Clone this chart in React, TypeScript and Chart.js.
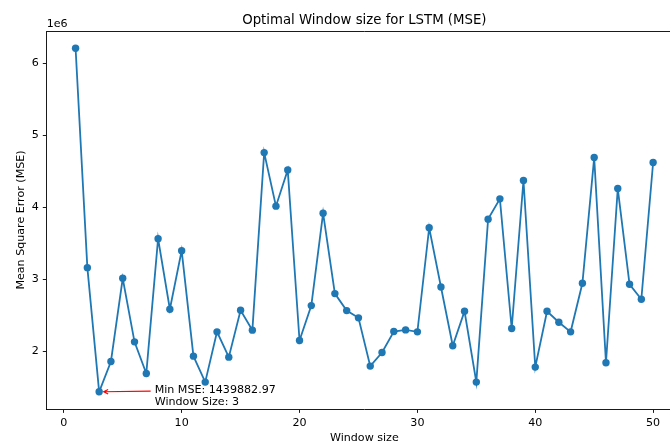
import { useEffect, useRef } from "react";
import { Chart, registerables } from "chart.js";

Chart.register(...registerables);

// Window sizes tried and the resulting validation MSE for each
const windowSizes = [
  1, 2, 3, 4, 5, 6, 7, 8, 9, 10,
  11, 12, 13, 14, 15, 16, 17, 18, 19, 20,
  21, 22, 23, 24, 25, 26, 27, 28, 29, 30,
  31, 32, 33, 34, 35, 36, 37, 38, 39, 40,
  41, 42, 43, 44, 45, 46, 47, 48, 49, 50,
];
const mseValues = [
  6212000, 3164000, 1439882.97, 1861000, 3016000, 2134000, 1695000, 3566000, 2587000, 3400000,
  1935000, 1575000, 2273000, 1921000, 2573000, 2296000, 4762000, 4018000, 4522000, 2152000,
  2637000, 3921000, 2804000, 2568000, 2467000, 1797000, 1986000, 2277000, 2300000, 2273000,
  3718000, 2896000, 2079000, 2559000, 1575000, 3838000, 4120000, 2319000, 4374000, 1783000,
  2559000, 2406000, 2273000, 2947000, 4693000, 1843000, 4263000, 2933000, 2725000, 4624000,
];

const xTickValues = [0, 10, 20, 30, 40, 50];
const yTickValues = [2e6, 3e6, 4e6, 5e6, 6e6];
const yScaleFactor = 1e6;

const titleText = "Optimal Window size for LSTM (MSE)";
const xAxisLabel = "Window size";
const yAxisLabel = "Mean Square Error (MSE)";
const offsetLabel = "1e6";

const FONT_FAMILY = "'DejaVu Sans', sans-serif";
const BASE_SIZE = 11.1;
const TITLE_SIZE = 13.3;
const LINE_BLUE = "#1f77b4";

// 5% padding on each side of the data range
function paddedRange(values: number[]): [number, number] {
  const lo = Math.min(...values);
  const hi = Math.max(...values);
  const m = (hi - lo) * 0.05;
  return [lo - m, hi + m];
}

export default function App() {
  const canvasRef = useRef<HTMLCanvasElement | null>(null);

  useEffect(() => {
    const canvas = canvasRef.current;
    if (!canvas) return;

    const [xMin, xMax] = paddedRange(windowSizes);
    const [yMin, yMax] = paddedRange(mseValues);

    let minIdx = 0;
    mseValues.forEach((v, i) => {
      if (v < mseValues[minIdx]) minIdx = i;
    });
    const bestWindow = windowSizes[minIdx];
    const bestMse = mseValues[minIdx];

    const points = windowSizes.map((w, i) => ({ x: w, y: mseValues[i] }));

    const decorations = {
      id: "decorations",
      afterDraw(chart: any) {
        const { ctx, chartArea: a, scales } = chart;
        ctx.save();

        // top and right spines
        ctx.strokeStyle = "#000";
        ctx.lineWidth = 0.9;
        ctx.beginPath();
        ctx.moveTo(a.left, a.top + 0.5);
        ctx.lineTo(a.right, a.top + 0.5);
        ctx.lineTo(a.right, a.bottom);
        ctx.stroke();

        ctx.fillStyle = "#000";

        // title
        ctx.font = `${TITLE_SIZE}px ${FONT_FAMILY}`;
        ctx.textAlign = "center";
        ctx.textBaseline = "alphabetic";
        ctx.fillText(titleText, (a.left + a.right) / 2, a.top - 6.7);

        // scale offset text
        ctx.font = `${BASE_SIZE}px ${FONT_FAMILY}`;
        ctx.textAlign = "left";
        ctx.fillText(offsetLabel, a.left, a.top - 4);

        // x axis label
        ctx.textAlign = "center";
        ctx.fillText(xAxisLabel, (a.left + a.right) / 2, a.bottom + 31.7);

        // y axis label
        ctx.save();
        ctx.translate(24, (a.top + a.bottom) / 2);
        ctx.rotate(-Math.PI / 2);
        ctx.textAlign = "center";
        ctx.fillText(yAxisLabel, 0, 0);
        ctx.restore();

        // annotation for the minimum
        const px = scales.x.getPixelForValue(bestWindow);
        const py = scales.y.getPixelForValue(bestMse);
        const tx = px + 55.5;
        ctx.textAlign = "left";
        ctx.textBaseline = "middle";
        ctx.fillText(`Min MSE: ${bestMse.toFixed(2)}`, tx, py - 1.5);
        ctx.fillText(`Window Size: ${bestWindow}`, tx, py + 10.5);

        const sx = tx - 4;
        const sy = py - 0.7;
        const ex = px + 4.5;
        const ey = py;
        ctx.strokeStyle = "#ff0000";
        ctx.lineWidth = 1.1;
        ctx.beginPath();
        ctx.moveTo(sx, sy);
        ctx.lineTo(ex, ey);
        const ang = Math.atan2(sy - ey, sx - ex);
        const head = 5;
        const spread = 0.45;
        ctx.moveTo(ex + head * Math.cos(ang + spread), ey + head * Math.sin(ang + spread));
        ctx.lineTo(ex, ey);
        ctx.lineTo(ex + head * Math.cos(ang - spread), ey + head * Math.sin(ang - spread));
        ctx.stroke();

        ctx.restore();
      },
    };

    const tickStyle = {
      font: { family: FONT_FAMILY, size: BASE_SIZE },
      color: "#000",
      padding: 3.9,
    };
    const gridStyle = {
      display: true,
      drawOnChartArea: false,
      drawTicks: true,
      tickLength: 3.9,
      tickWidth: 0.9,
      tickColor: "#000",
    };
    const borderStyle = { display: true, color: "#000", width: 0.9 };

    const chart = new Chart(canvas, {
      type: "line",
      data: {
        datasets: [
          {
            data: points,
            borderColor: LINE_BLUE,
            backgroundColor: LINE_BLUE,
            borderWidth: 1.8,
            pointRadius: 3.7,
            pointBorderWidth: 0,
            pointBackgroundColor: LINE_BLUE,
            tension: 0,
            fill: false,
          },
        ],
      },
      options: {
        responsive: false,
        animation: false,
        devicePixelRatio: 1,
        layout: { padding: { top: 31, right: 18, bottom: 0, left: 0 } },
        plugins: {
          legend: { display: false },
          title: { display: false },
          tooltip: { enabled: false },
        },
        scales: {
          x: {
            type: "linear",
            min: xMin,
            max: xMax,
            grid: gridStyle,
            border: borderStyle,
            ticks: { ...tickStyle, maxRotation: 0 },
            afterBuildTicks: (scale: any) => {
              scale.ticks = xTickValues.map((v) => ({ value: v }));
            },
            afterFit: (scale: any) => {
              scale.height = 35;
            },
          },
          y: {
            type: "linear",
            min: yMin,
            max: yMax,
            grid: gridStyle,
            border: borderStyle,
            ticks: {
              ...tickStyle,
              callback: (v: any) => String(Number(v) / yScaleFactor),
            },
            afterBuildTicks: (scale: any) => {
              scale.ticks = yTickValues.map((v) => ({ value: v }));
            },
            afterFit: (scale: any) => {
              scale.width = 46.7;
            },
          },
        },
      },
      plugins: [decorations],
    });

    return () => chart.destroy();
  }, []);

  return (
    <div
      style={{
        position: "fixed",
        left: 0,
        top: 0,
        width: 670,
        height: 444,
        overflow: "hidden",
        background: "#fff",
      }}
    >
      <canvas ref={canvasRef} width={700} height={444} style={{ width: 700, height: 444, display: "block" }} />
    </div>
  );
}
